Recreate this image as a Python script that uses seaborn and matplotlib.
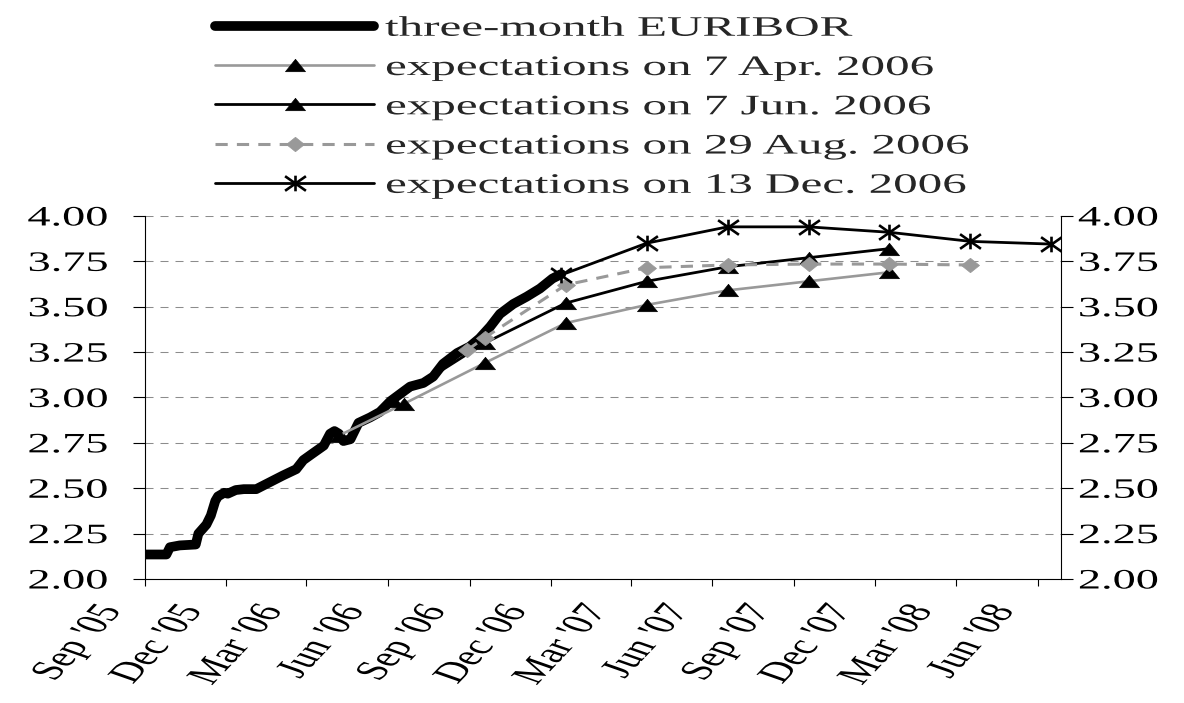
import numpy as np
import pandas as pd
import matplotlib
matplotlib.use("Agg")
import matplotlib.pyplot as plt
import seaborn as sns
from matplotlib.path import Path
from matplotlib.patheffects import AbstractPathEffect
from matplotlib.transforms import Affine2D, ScaledTranslation

# three-month EURIBOR
euribor_dates = ['2005-09-01', '2005-09-25', '2005-09-29', '2005-10-10', '2005-10-28', '2005-10-31',
                 '2005-11-09', '2005-11-14', '2005-11-19', '2005-11-22', '2005-11-29', '2005-12-03',
                 '2005-12-12', '2005-12-21', '2006-01-04', '2006-01-16', '2006-02-03', '2006-02-18',
                 '2006-02-26', '2006-03-08', '2006-03-21', '2006-03-28', '2006-04-02', '2006-04-07',
                 '2006-04-12', '2006-04-20', '2006-04-26', '2006-04-29', '2006-05-12', '2006-05-23',
                 '2006-06-04', '2006-06-15', '2006-06-26', '2006-07-11', '2006-07-22', '2006-08-02',
                 '2006-08-18', '2006-09-01', '2006-09-12', '2006-09-24', '2006-10-05', '2006-10-20',
                 '2006-11-04', '2006-11-19', '2006-12-03', '2006-12-13']
euribor_vals = [2.135, 2.135, 2.175, 2.185, 2.19, 2.25, 2.30, 2.35, 2.43, 2.455, 2.475, 2.47,
                2.49, 2.495, 2.495, 2.525, 2.57, 2.605, 2.655, 2.69, 2.735, 2.80, 2.815, 2.80,
                2.76, 2.77, 2.83, 2.86, 2.89, 2.92, 2.98, 3.02, 3.06, 3.08, 3.115, 3.185,
                3.245, 3.28, 3.325, 3.39, 3.46, 3.515, 3.555, 3.60, 3.655, 3.68]

# market expectations: quote date, then futures settlement dates
apr_dates = ['2006-04-07', '2006-06-19', '2006-09-18', '2006-12-18', '2007-03-19', '2007-06-18',
             '2007-09-17', '2007-12-17']
apr_vals = [2.79, 2.965, 3.19, 3.41, 3.51, 3.59, 3.64, 3.69]

jun_dates = ['2006-06-07', '2006-09-18', '2006-12-18', '2007-03-19', '2007-06-18', '2007-09-17',
             '2007-12-17']
jun_vals = [2.98, 3.30, 3.52, 3.64, 3.72, 3.77, 3.82]

aug_dates = ['2006-08-29', '2006-09-18', '2006-12-18', '2007-03-19', '2007-06-18', '2007-09-17',
             '2007-12-17', '2008-03-17']
aug_vals = [3.26, 3.33, 3.62, 3.715, 3.73, 3.735, 3.735, 3.73]

dec_dates = ['2006-12-13', '2007-03-19', '2007-06-18', '2007-09-17', '2007-12-17', '2008-03-17',
             '2008-06-16']
dec_vals = [3.675, 3.85, 3.94, 3.94, 3.91, 3.86, 3.845]

series_labels = ['three-month EURIBOR', 'expectations on 7 Apr. 2006', 'expectations on 7 Jun. 2006',
                 'expectations on 29 Aug. 2006', 'expectations on 13 Dec. 2006']

tick_dates = ['2005-09-01', '2005-12-01', '2006-03-01', '2006-06-01', '2006-09-01', '2006-12-01',
              '2007-03-01', '2007-06-01', '2007-09-01', '2007-12-01', '2008-03-01', '2008-06-01']
tick_labels = ["Sep '05", "Dec '05", "Mar '06", "Jun '06", "Sep '06", "Dec '06",
               "Mar '07", "Jun '07", "Sep '07", "Dec '07", "Mar '08", "Jun '08"]
y_ticks = [2.00, 2.25, 2.50, 2.75, 3.00, 3.25, 3.50, 3.75, 4.00]


class WideText(AbstractPathEffect):
    # the source chart has horizontally stretched lettering: scale glyphs in x around the text anchor
    def __init__(self, text, sx):
        super().__init__()
        self.text = text
        self.sx = sx

    def draw_path(self, renderer, gc, tpath, affine, rgbFace=None):
        cx = self.text.get_transform().transform(self.text.get_unitless_position())[0]
        stretch = Affine2D().translate(-cx, 0).scale(self.sx, 1).translate(cx, 0)
        renderer.draw_path(gc, tpath, affine + stretch, rgbFace)


# flattened marker shapes (Excel-style, wider than tall)
tri = Path([(-1, -0.62), (1, -0.62), (0, 0.62), (-1, -0.62)], closed=True)
diamond = Path([(-1, 0), (0, 0.8), (1, 0), (0, -0.8), (-1, 0)], closed=True)
star = Path([(-1, -0.7), (1, 0.7), (-1, 0.7), (1, -0.7), (0, -0.75), (0, 0.75)],
            [Path.MOVETO, Path.LINETO] * 3)

sns.set_style("ticks")
plt.rcParams['font.family'] = ['Liberation Serif', 'DejaVu Serif']

fig = plt.figure(figsize=(11.84, 7.03), dpi=100)
ax = fig.add_axes([0.1225, 0.1764, 0.7737, 0.5164])

grey = '#999999'
sns.lineplot(x=pd.to_datetime(euribor_dates), y=euribor_vals, ax=ax, color='black', lw=7,
             solid_capstyle='round', solid_joinstyle='round', errorbar=None, label=series_labels[0])
sns.lineplot(x=pd.to_datetime(apr_dates), y=apr_vals, ax=ax, color=grey, lw=1.9, errorbar=None,
             marker=tri, ms=14.4, mfc='black', mec='black', mew=0.5, label=series_labels[1])
sns.lineplot(x=pd.to_datetime(jun_dates), y=jun_vals, ax=ax, color='black', lw=2, errorbar=None,
             marker=tri, ms=14.4, mfc='black', mec='black', mew=0.5, label=series_labels[2])
sns.lineplot(x=pd.to_datetime(aug_dates), y=aug_vals, ax=ax, color=grey, lw=2.2, errorbar=None,
             linestyle=(0, (4, 3)), marker=diamond, ms=13, mfc=grey, mec=grey, mew=0.5,
             label=series_labels[3])
sns.lineplot(x=pd.to_datetime(dec_dates), y=dec_vals, ax=ax, color='black', lw=2, errorbar=None,
             marker=star, ms=15, mfc='black', mec='black', mew=1.9, label=series_labels[4])

ax.set_xlim(pd.Timestamp('2005-09-01'), pd.Timestamp('2008-06-27'))
ax.set_ylim(2.0, 4.0)
ax.set_xlabel('')
ax.set_ylabel('')

ax.set_yticks(y_ticks)
ax.set_yticklabels([f'{v:.2f}' for v in y_ticks])
ax.set_xticks(pd.to_datetime(tick_dates))
ax.set_xticklabels(tick_labels)

ax.grid(False)
ax.yaxis.grid(True, color='#8c8c8c', linewidth=0.75, linestyle=(0, (7.7, 6.7)))
ax.set_axisbelow(True)

for side in ['left', 'bottom', 'right']:
    ax.spines[side].set_visible(True)
    ax.spines[side].set_color('black')
    ax.spines[side].set_linewidth(0.8)
ax.spines['top'].set_visible(False)

ax.tick_params(axis='y', direction='out', length=8.5, width=0.8, pad=18, labelsize=20.2,
               left=True, right=True, labelleft=True, labelright=True, colors='black')
ax.tick_params(axis='x', direction='out', length=5, width=0.8, pad=11, labelsize=20.2,
               labelrotation=60, colors='black')

handles, labels = ax.get_legend_handles_labels()
leg = ax.legend(handles, labels, loc='upper left', bbox_to_anchor=(215 / 1184, 1 - 16 / 703),
                bbox_transform=fig.transFigure, frameon=False, borderpad=0, borderaxespad=0,
                handlelength=5.65, handletextpad=0.38, labelspacing=0.48, numpoints=1,
                prop={'size': 20.3})

# stretch texts and shift rotated x labels to the left of their ticks, as in the source
for lab in ax.get_xticklabels():
    lab.set_ha('right')
    lab.set_va('top')
    lab.set_rotation_mode('anchor')
    lab.set_transform(lab.get_transform() + ScaledTranslation(-0.5, 0, fig.dpi_scale_trans))
    lab.set_path_effects([WideText(lab, 1.65)])
for tick in ax.yaxis.get_major_ticks():
    tick.label1.set_path_effects([WideText(tick.label1, 1.65)])
    tick.label2.set_transform(tick.label2.get_transform()
                              + ScaledTranslation(-0.2, 0, fig.dpi_scale_trans))
    tick.label2.set_path_effects([WideText(tick.label2, 1.65)])
for t in leg.get_texts():
    t.set_path_effects([WideText(t, 1.74)])

fig.savefig('out.png', dpi=100)
